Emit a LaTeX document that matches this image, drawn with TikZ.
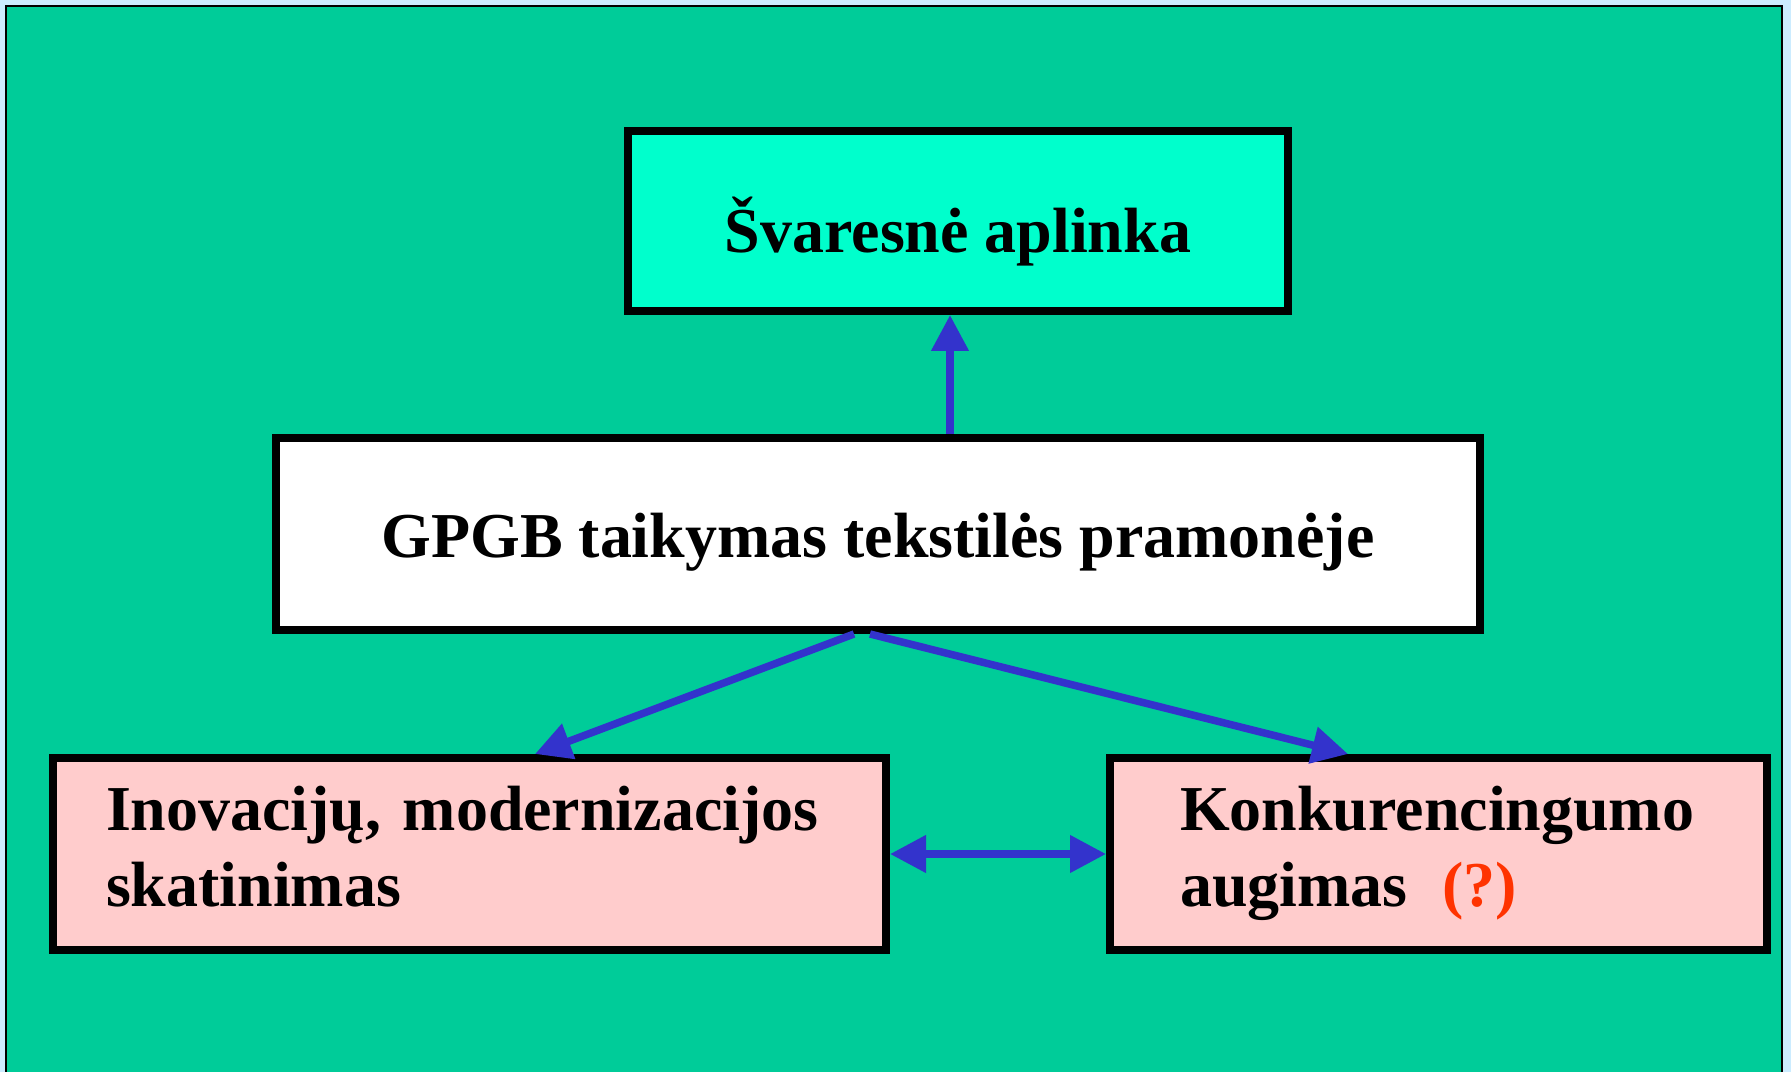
\documentclass[tikz,border=0pt]{standalone}
\usepackage{fontspec}
\setmainfont{Liberation Serif}
\usepackage{tikz}
\usetikzlibrary{arrows.meta, positioning, calc}

\definecolor{paneback}{RGB}{204,236,255}
\definecolor{panegreen}{RGB}{0,204,153}
\definecolor{topfill}{RGB}{0,255,204}
\definecolor{pinkfill}{RGB}{255,204,204}
\definecolor{arrowblue}{RGB}{51,51,204}
\definecolor{qred}{RGB}{255,51,0}

\begin{document}
\begin{tikzpicture}[
    box/.style={draw=black, line width=0.08cm, inner sep=0pt,
                font=\fontsize{18.2}{21.9}\selectfont\bfseries},
    link/.style={draw=arrowblue, line width=0.075cm,
                 -{Triangle[length=3.6mm, width=3.6mm]}}
    ]
    % page and green panel
    \clip (0,0) rectangle (17.91,-10.72);
    \fill[paneback] (0,0) rectangle (17.91,-10.72);
    \filldraw[fill=panegreen, draw=black, line width=0.02cm] (0.06,-0.06) rectangle (17.82,-10.90);

    % boxes
    \node[box, fill=topfill, minimum width=6.60cm, minimum height=1.80cm,
          text height=0.64cm, text depth=0cm] (svar) at (9.58,-2.21) {Švaresnė aplinka};
    \node[box, fill=white, minimum width=12.04cm, minimum height=1.92cm,
          text height=0.48cm, text depth=0cm] (gpgb) at (8.78,-5.34) {GPGB taikymas tekstilės pramonėje};
    \node[box, fill=pinkfill, minimum width=8.33cm, minimum height=1.92cm,
          text width=7.27cm, inner xsep=0.53cm, align=left,
          text height=0cm, text depth=0.48cm] (innov) at (4.695,-8.54)
          {Inovacijų, modernizacijos\\skatinimas};
    \node[box, fill=pinkfill, minimum width=6.57cm, minimum height=1.92cm,
          text width=5.17cm, inner xsep=0.70cm, align=left,
          text height=0cm, text depth=0.48cm] (konk) at (14.385,-8.54)
          {Konkurencingumo\\augimas\hspace{3.5mm}\textcolor{qred}{(?)}};

    % arrows
    \draw[link] ([xshift=0.72cm]gpgb.north) -- ([xshift=0.72cm]gpgb.north |- svar.south);
    \draw[link] ([xshift=-0.24cm]gpgb.south) -- ([xshift=0.655cm]innov.north);
    \draw[link] ([xshift=-0.08cm]gpgb.south) -- ([xshift=-0.905cm]konk.north);
    \draw[link, {Triangle[length=3.6mm, width=3.6mm]}-{Triangle[length=3.6mm, width=3.6mm]}] (innov.east) -- (konk.west);
\end{tikzpicture}
\end{document}
